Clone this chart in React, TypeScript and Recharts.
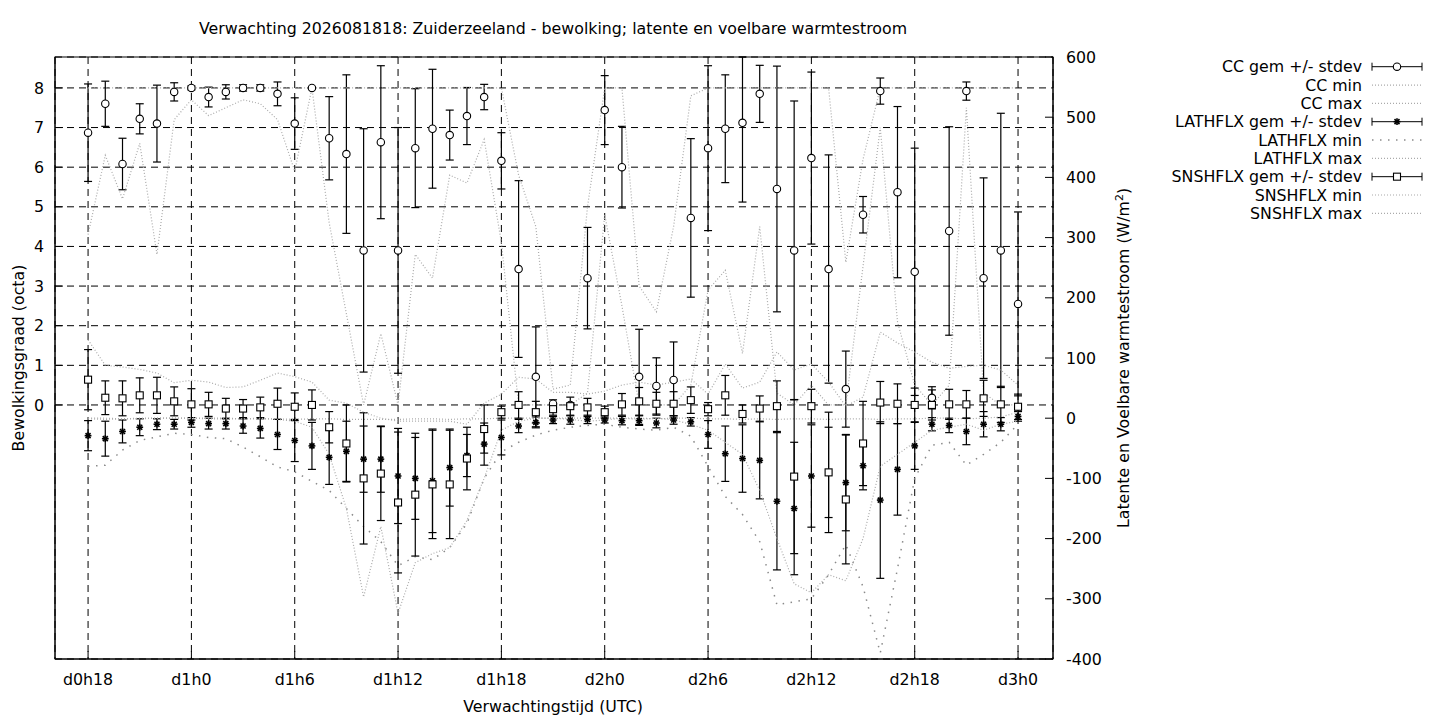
import React from "react";
import { ComposedChart, Line, XAxis, YAxis, CartesianGrid, ErrorBar } from "recharts";

// hours since d0h18
const hours = [
  0, 1, 2, 3, 4, 5, 6, 7, 8, 9, 10, 11, 12, 13, 14, 15, 16, 17, 18, 19,
  20, 21, 22, 23, 24, 25, 26, 27, 28, 29, 30, 31, 32, 33, 34, 35, 36, 37, 38, 39,
  40, 41, 42, 43, 44, 45, 46, 47, 48, 49, 50, 51, 52, 53, 54,
];
const xTicks = [0, 6, 12, 18, 24, 30, 36, 42, 48, 54];
const xTickLabels = ["d0h18", "d1h0", "d1h6", "d1h12", "d1h18", "d2h0", "d2h6", "d2h12", "d2h18", "d3h0"];
const ccTicks = [0, 1, 2, 3, 4, 5, 6, 7, 8];
const fluxTicks = [-400, -300, -200, -100, 0, 100, 200, 300, 400, 500, 600];

// bewolking (octa)
const ccMean = [
  6.87, 7.6, 6.08, 7.22, 7.1, 7.9, 8.0, 7.77, 7.9, 8.0,
  8.0, 7.85, 7.1, 8.0, 6.73, 6.33, 3.9, 6.63, 3.9, 6.48,
  6.97, 6.81, 7.29, 7.77, 6.16, 3.43, 0.71, 0.03, 0.0, 3.2,
  7.44, 6.0, 0.71, 0.48, 0.63, 4.72, 6.48, 6.97, 7.12, 7.85,
  5.45, 3.9, 6.23, 3.43, 0.4, 4.8, 7.92, 5.37, 3.36, 0.18,
  4.39, 7.92, 3.2, 3.9, 2.55,
];
const ccSd = [
  1.23, 0.57, 0.65, 0.38, 0.97, 0.23, 0.05, 0.25, 0.18, 0.08,
  0.08, 0.3, 0.65, 0.0, 1.05, 2.0, 3.07, 1.93, 3.1, 1.5,
  1.5, 0.63, 0.72, 0.32, 0.71, 2.23, 1.26, 0.1, 0.0, 1.28,
  0.87, 1.03, 1.2, 0.71, 0.96, 2.0, 2.08, 1.36, 2.0, 0.72,
  3.1, 3.77, 2.17, 2.88, 0.96, 0.46, 0.33, 2.16, 3.12, 0.28,
  2.63, 0.23, 2.53, 3.46, 2.32,
];
const ccMin = [
  4.3, 6.3, 5.2, 6.6, 3.8, 7.2, 7.7, 7.3, 7.5, 7.7,
  7.6, 7.2, 5.9, 8.0, 4.6, 2.3, 0.0, 1.8, 0.0, 3.8,
  3.2, 5.8, 5.6, 6.7, 4.1, 0.0, 0.0, 0.0, 0.0, 0.3,
  4.8, 2.5, 0.0, 0.0, 0.0, 0.5, 2.9, 3.4, 1.3, 4.5,
  0.3, 0.0, 0.5, 0.0, 0.0, 3.5, 7.0, 2.1, 0.5, 0.0,
  0.5, 7.5, 0.3, 0.0, 0.0,
];
const ccMax = [
  8, 8, 8, 8, 8, 8, 8, 8, 8, 8,
  8, 8, 8, 8, 8, 8, 8, 8, 8, 8,
  8, 8, 8, 8, 8, 5.8, 4.5, 0.4, 0.5, 5.0,
  8, 8, 3.0, 2.35, 4.5, 7.8, 8, 8, 8, 8,
  8, 8, 8, 8, 3.6, 6.2, 8, 8, 8, 8,
  8, 8, 8, 8, 8,
];

// latente warmtestroom (W/m2)
const latMean = [
  -29, -34, -22, -15, -10, -10, -7, -9, -9, -13,
  -17, -27, -37, -46, -65, -55, -68, -68, -96, -100,
  -104, -82, -62, -43, -32, -13, -7, -3, -3, -2,
  -3, -4, -4, -8, -3, -6, -27, -59, -67, -70,
  -138, -150, -96, -90, -107, -79, -136, -85, -46, -10,
  -12, -22, -10, -10, 3,
];
const latSd = [
  25, 29, 19, 14, 9, 8, 8, 9, 9, 12,
  16, 25, 35, 39, 45, 50, 55, 55, 79, 68,
  86, 64, 35, 35, 29, 11, 9, 6, 7, 7,
  5, 7, 8, 8, 7, 7, 23, 46, 56, 64,
  114, 110, 85, 75, 80, 40, 130, 76, 39, 11,
  12, 22, 21, 11, 8,
];
const latMin = [
  -80, -78, -53, -37, -31, -25, -27, -32, -34, -48,
  -64, -81, -89, -105, -120, -150, -180, -205, -245, -230,
  -235, -215, -175, -100, -56, -40, -28, -20, -15, -12,
  -10, -15, -18, -20, -15, -30, -80, -130, -160, -205,
  -310, -305, -300, -260, -210, -280, -390, -250, -100, -45,
  -40, -78, -60, -40, -10,
];
const latMax = [
  -1, -2, -1, -1, 0, 0, 0, -1, -1, -1,
  -1, -1, -2, -1, -1, -2, -2, -2, -2, -1,
  -1, -2, -1, -1, 0, 0, 0, 0, 0, 0,
  0, 0, 0, -1, 0, 0, -1, -1, -2, -1,
  -2, -1, -1, -2, -1, -1, -2, -1, -1, 0,
  0, -1, 0, 2, 10,
];

// voelbare warmtestroom (W/m2)
const snsMean = [
  64, 34, 33, 38, 38, 28, 23, 23, 16, 16,
  18, 24, 19, 22, -15, -42, -100, -92, -140, -127,
  -110, -110, -67, -18, 10, 22, 10, 15, 20, 18,
  10, 23, 28, 24, 24, 30, 15, 38, 7, 16,
  20, -97, 20, -90, -135, -42, 26, 24, 22, 22,
  23, 23, 33, 23, 19,
];
const snsSd = [
  50, 28, 29, 29, 30, 24, 26, 20, 17, 15,
  17, 26, 23, 25, 26, 64, 109, 78, 117, 102,
  90, 90, 52, 40, 10, 22, 18, 10, 15, 15,
  10, 18, 23, 19, 20, 22, 11, 33, 15, 21,
  42, 128, 28, 100, 107, 70, 35, 33, 28, 25,
  25, 23, 30, 30, 21,
];
const snsMin = [
  0, 0, -1, 0, 0, 0, 0, 0, 0, -1,
  0, -2, -5, -15, -60, -150, -297, -180, -324, -240,
  -225, -215, -170, -100, -20, -5, 0, 0, -2, -5,
  -3, 0, -2, 0, -3, -10, -20, -40, -60, -120,
  -200, -275, -290, -260, -270, -200, -80, -60, -40, -20,
  -15, -10, -20, -10, -5,
];
const snsMax = [
  130, 88, 85, 81, 75, 59, 63, 60, 51, 52,
  63, 75, 69, 60, 30, 25, 10, 0, -5, -5,
  -5, -5, -10, 25, 40, 68, 65, 43, 43, 40,
  45, 55, 60, 55, 60, 65, 40, 90, 50, 60,
  110, 80, 90, 60, 20, 35, 143, 125, 110, 93,
  83, 86, 88, 80, 55,
];

const CC_DOMAIN: [number, number] = [-6.41, 8.78];
const FLUX_DOMAIN: [number, number] = [-400, 600];
const X_DOMAIN: [number, number] = [-1.92, 56.03];

const FONT = "'DejaVu Sans', sans-serif";
const FS = 15.8;
const LIGHT = "#aaaaaa";
const DARK_DOT = "#8a8a8a";

const data = hours.map((h, i) => ({
  h,
  cc: ccMean[i],
  // upper bar is cut off at the top of the plot, like the original
  ccErr: [ccSd[i], Math.min(ccSd[i], CC_DOMAIN[1] - ccMean[i])],
  ccMin: ccMin[i],
  ccMax: ccMax[i],
  lat: latMean[i],
  latErr: latSd[i],
  latMin: latMin[i],
  latMax: latMax[i],
  sns: snsMean[i],
  snsErr: snsSd[i],
  snsMin: snsMin[i],
  snsMax: snsMax[i],
}));

const Circle = ({ cx, cy }: { cx: number; cy: number }) => (
  <circle cx={cx} cy={cy} r={3.7} fill="#fff" stroke="#000" strokeWidth={1.1} />
);
const Square = ({ cx, cy }: { cx: number; cy: number }) => (
  <rect x={cx - 3.5} y={cy - 3.5} width={7} height={7} fill="#fff" stroke="#000" strokeWidth={1.1} />
);
const Star = ({ cx, cy }: { cx: number; cy: number }) => {
  const r = 3.4;
  const d = 2.5;
  return (
    <g stroke="#000" strokeWidth={1.6}>
      <line x1={cx - r} y1={cy} x2={cx + r} y2={cy} />
      <line x1={cx} y1={cy - r} x2={cx} y2={cy + r} />
      <line x1={cx - d} y1={cy - d} x2={cx + d} y2={cy + d} />
      <line x1={cx - d} y1={cy + d} x2={cx + d} y2={cy - d} />
    </g>
  );
};

const dotOf = (Shape: any) => (props: any) => {
  const { cx, cy, index } = props;
  if (cx == null || cy == null) return <g key={`e${index}`} />;
  return <Shape key={`d${index}`} cx={cx} cy={cy} />;
};

const LeftTick = ({ x, y, payload }: any) => (
  <g>
    <line x1={x} x2={x + 8} y1={y} y2={y} stroke="#000" />
    <text x={x - 11} y={y} dy="0.36em" textAnchor="end" fontFamily={FONT} fontSize={FS} fill="#000">
      {payload.value}
    </text>
  </g>
);

const RightTick = ({ x, y, payload }: any) => (
  <g>
    <line x1={x - 8} x2={x} y1={y} y2={y} stroke="#000" />
    <text x={x + 13} y={y} dy="0.36em" textAnchor="start" fontFamily={FONT} fontSize={FS} fill="#000">
      {payload.value}
    </text>
  </g>
);

const BottomTick = ({ x, y, payload }: any) => {
  const idx = xTicks.indexOf(payload.value);
  return (
    <g>
      <line x1={x} x2={x} y1={y} y2={y - 8} stroke="#000" />
      <text x={x} y={y + 26} textAnchor="middle" fontFamily={FONT} fontSize={FS} fill="#000">
        {idx >= 0 ? xTickLabels[idx] : ""}
      </text>
    </g>
  );
};

const legendRows = [
  { label: "CC gem +/- stdev", kind: "bar", marker: Circle },
  { label: "CC min", kind: "dense" },
  { label: "CC max", kind: "dense" },
  { label: "LATHFLX gem +/- stdev", kind: "bar", marker: Star },
  { label: "LATHFLX min", kind: "sparse" },
  { label: "LATHFLX max", kind: "dense" },
  { label: "SNSHFLX gem +/- stdev", kind: "bar", marker: Square },
  { label: "SNSHFLX min", kind: "dense" },
  { label: "SNSHFLX max", kind: "dense" },
];

function Legend() {
  const x0 = 1372;
  const x1 = 1422;
  return (
    <g>
      {legendRows.map((row, k) => {
        const y = 66.7 + k * 18.33;
        const M: any = row.marker;
        return (
          <g key={row.label}>
            <text x={1362} y={y} dy="0.36em" textAnchor="end" fontFamily={FONT} fontSize={FS} fill="#000">
              {row.label}
            </text>
            {row.kind === "bar" ? (
              <g>
                <line x1={x0} x2={x1} y1={y} y2={y} stroke="#000" />
                <line x1={x0} x2={x0} y1={y - 4} y2={y + 4} stroke="#000" />
                <line x1={x1} x2={x1} y1={y - 4} y2={y + 4} stroke="#000" />
                <M cx={(x0 + x1) / 2} cy={y} />
              </g>
            ) : row.kind === "sparse" ? (
              <line x1={x0} x2={x1} y1={y} y2={y} stroke={DARK_DOT} strokeWidth={1.5} strokeDasharray="1.5 6.5" />
            ) : (
              <line x1={x0} x2={x1} y1={y} y2={y} stroke={LIGHT} strokeWidth={1.2} strokeDasharray="1 2" />
            )}
          </g>
        );
      })}
    </g>
  );
}

export default function App() {
  return (
    <div style={{ position: "absolute", left: 0, top: 0, width: 1440, height: 720, background: "#fff" }}>
      <ComposedChart
        width={1440}
        height={720}
        data={data}
        margin={{ top: 57, right: 307, bottom: 0, left: 0 }}
      >
        <CartesianGrid
          xAxisId="x"
          yAxisId="cc"
          stroke="#000"
          strokeWidth={1}
          strokeDasharray="7 5"
          fill="none"
        />
        <XAxis
          xAxisId="x"
          dataKey="h"
          type="number"
          domain={X_DOMAIN}
          allowDataOverflow
          ticks={xTicks}
          interval={0}
          height={61}
          tickSize={0}
          tickMargin={0}
          tickLine={false}
          axisLine={{ stroke: "#000" }}
          tick={<BottomTick />}
        />
        <YAxis
          yAxisId="cc"
          orientation="left"
          type="number"
          domain={CC_DOMAIN}
          allowDataOverflow
          ticks={ccTicks}
          interval={0}
          width={55}
          tickSize={0}
          tickMargin={0}
          tickLine={false}
          axisLine={{ stroke: "#000" }}
          tick={<LeftTick />}
        />
        <YAxis
          yAxisId="flux"
          orientation="right"
          type="number"
          domain={FLUX_DOMAIN}
          allowDataOverflow
          ticks={fluxTicks}
          interval={0}
          width={80}
          tickSize={0}
          tickMargin={0}
          tickLine={false}
          axisLine={{ stroke: "#000" }}
          tick={<RightTick />}
        />

        <Line xAxisId="x" yAxisId="cc" dataKey="cc" stroke="none" dot={dotOf(Circle)} activeDot={false} isAnimationActive={false}>
          <ErrorBar dataKey="ccErr" direction="y" width={4} stroke="#000" strokeWidth={1.2} />
        </Line>
        <Line xAxisId="x" yAxisId="cc" dataKey="ccMin" stroke={LIGHT} strokeWidth={1.2} strokeDasharray="1 2" dot={false} activeDot={false} isAnimationActive={false} />
        <Line xAxisId="x" yAxisId="cc" dataKey="ccMax" stroke={LIGHT} strokeWidth={1.2} strokeDasharray="1 2" dot={false} activeDot={false} isAnimationActive={false} />

        <Line xAxisId="x" yAxisId="flux" dataKey="lat" stroke="none" dot={dotOf(Star)} activeDot={false} isAnimationActive={false}>
          <ErrorBar dataKey="latErr" direction="y" width={4} stroke="#000" strokeWidth={1.2} />
        </Line>
        <Line xAxisId="x" yAxisId="flux" dataKey="latMin" stroke={DARK_DOT} strokeWidth={1.5} strokeDasharray="1.5 6.5" dot={false} activeDot={false} isAnimationActive={false} />
        <Line xAxisId="x" yAxisId="flux" dataKey="latMax" stroke={LIGHT} strokeWidth={1.2} strokeDasharray="1 2" dot={false} activeDot={false} isAnimationActive={false} />

        <Line xAxisId="x" yAxisId="flux" dataKey="sns" stroke="none" dot={dotOf(Square)} activeDot={false} isAnimationActive={false}>
          <ErrorBar dataKey="snsErr" direction="y" width={4} stroke="#000" strokeWidth={1.2} />
        </Line>
        <Line xAxisId="x" yAxisId="flux" dataKey="snsMin" stroke={LIGHT} strokeWidth={1.2} strokeDasharray="1 2" dot={false} activeDot={false} isAnimationActive={false} />
        <Line xAxisId="x" yAxisId="flux" dataKey="snsMax" stroke={LIGHT} strokeWidth={1.2} strokeDasharray="1 2" dot={false} activeDot={false} isAnimationActive={false} />
      </ComposedChart>

      <svg
        width={1440}
        height={720}
        style={{ position: "absolute", left: 0, top: 0, pointerEvents: "none" }}
      >
        <rect x={55} y={57} width={998} height={602} fill="none" stroke="#000" strokeWidth={1} />
        <text x={553} y={34} textAnchor="middle" fontFamily={FONT} fontSize={FS} fill="#000">
          Verwachting 2026081818: Zuiderzeeland - bewolking; latente en voelbare warmtestroom
        </text>
        <text x={553} y={712} textAnchor="middle" fontFamily={FONT} fontSize={FS} fill="#000">
          Verwachtingstijd (UTC)
        </text>
        <text
          transform="translate(24,358) rotate(-90)"
          textAnchor="middle"
          fontFamily={FONT}
          fontSize={FS}
          fill="#000"
        >
          Bewolkingsgraad (octa)
        </text>
        <text
          transform="translate(1129,358) rotate(-90)"
          textAnchor="middle"
          fontFamily={FONT}
          fontSize={FS}
          fill="#000"
        >
          Latente en Voelbare warmtestroom (W/m
          <tspan fontSize={11} dy={-6}>2</tspan>
          <tspan dy={6}>)</tspan>
        </text>
        <Legend />
      </svg>
    </div>
  );
}
